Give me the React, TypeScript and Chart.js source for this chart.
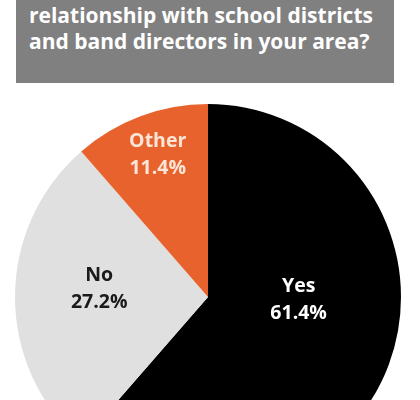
import React, { useEffect, useRef } from "react";
import { Chart, registerables } from "chart.js";

Chart.register(...registerables);

const categories = ["Yes", "No", "Other"];
const values = [61.4, 27.2, 11.4];
const valueLabels = ["61.4%", "27.2%", "11.4%"];
const colors = ["#000000", "#e0e0e0", "#e8622d"];
const labelColors = ["#ffffff", "#1a1a1a", "#fbe6d8"];
const headerLines = [
  "relationship with school districts",
  "and band directors in your area?",
];

// label anchors: [angle offset from slice middle (deg), radius fraction]
const labelAnchors: [number, number][] = [
  [-18.5, 0.47],
  [4, 0.565],
  [1, 0.78],
];

const sliceLabels = {
  id: "sliceLabels",
  afterDatasetsDraw(chart: any) {
    const ctx = chart.ctx;
    const meta = chart.getDatasetMeta(0);
    ctx.save();
    ctx.textAlign = "center";
    ctx.textBaseline = "middle";
    ctx.font = "bold 19.5px 'Open Sans', sans-serif";
    meta.data.forEach((arc: any, i: number) => {
      const p = arc.getProps(["x", "y", "startAngle", "endAngle", "outerRadius"], true);
      const mid = (p.startAngle + p.endAngle) / 2 + (labelAnchors[i][0] * Math.PI) / 180;
      const r = p.outerRadius * labelAnchors[i][1];
      const cx = p.x + Math.cos(mid) * r;
      const cy = p.y + Math.sin(mid) * r;
      ctx.fillStyle = labelColors[i];
      ctx.fillText(categories[i], cx, cy - 13.5);
      ctx.fillText(valueLabels[i], cx, cy + 13.5);
    });
    ctx.restore();
  },
};

export default function App() {
  const ref = useRef<HTMLCanvasElement>(null);
  useEffect(() => {
    if (!ref.current) return;
    const chart = new Chart(ref.current, {
      type: "pie",
      data: {
        labels: categories,
        datasets: [
          {
            data: values,
            backgroundColor: colors,
            borderWidth: 0,
          },
        ],
      },
      options: {
        animation: false,
        responsive: false,
        maintainAspectRatio: false,
        layout: { padding: 0 },
        plugins: {
          legend: { display: false },
          tooltip: { enabled: false },
        },
      },
      plugins: [sliceLabels],
    });
    return () => chart.destroy();
  }, []);

  return (
    <div
      style={{
        position: "fixed",
        left: 0,
        top: 0,
        width: 420,
        height: 400,
        overflow: "hidden",
        background: "#ffffff",
      }}
    >
      <div
        style={{
          position: "absolute",
          left: 16,
          top: 0,
          width: 378,
          height: 83,
          background: "#808080",
          color: "#ffffff",
          fontFamily: "'Open Sans', sans-serif",
          fontWeight: 700,
          fontSize: 21,
          lineHeight: "26px",
          boxSizing: "border-box",
          paddingLeft: 13,
          paddingTop: 2,
          whiteSpace: "nowrap",
        }}
      >
        {headerLines.map((l, i) => (
          <div key={i}>{l}</div>
        ))}
      </div>
      <canvas
        ref={ref}
        width={386}
        height={386}
        style={{ position: "absolute", left: 15, top: 104, width: 386, height: 386 }}
      />
    </div>
  );
}
